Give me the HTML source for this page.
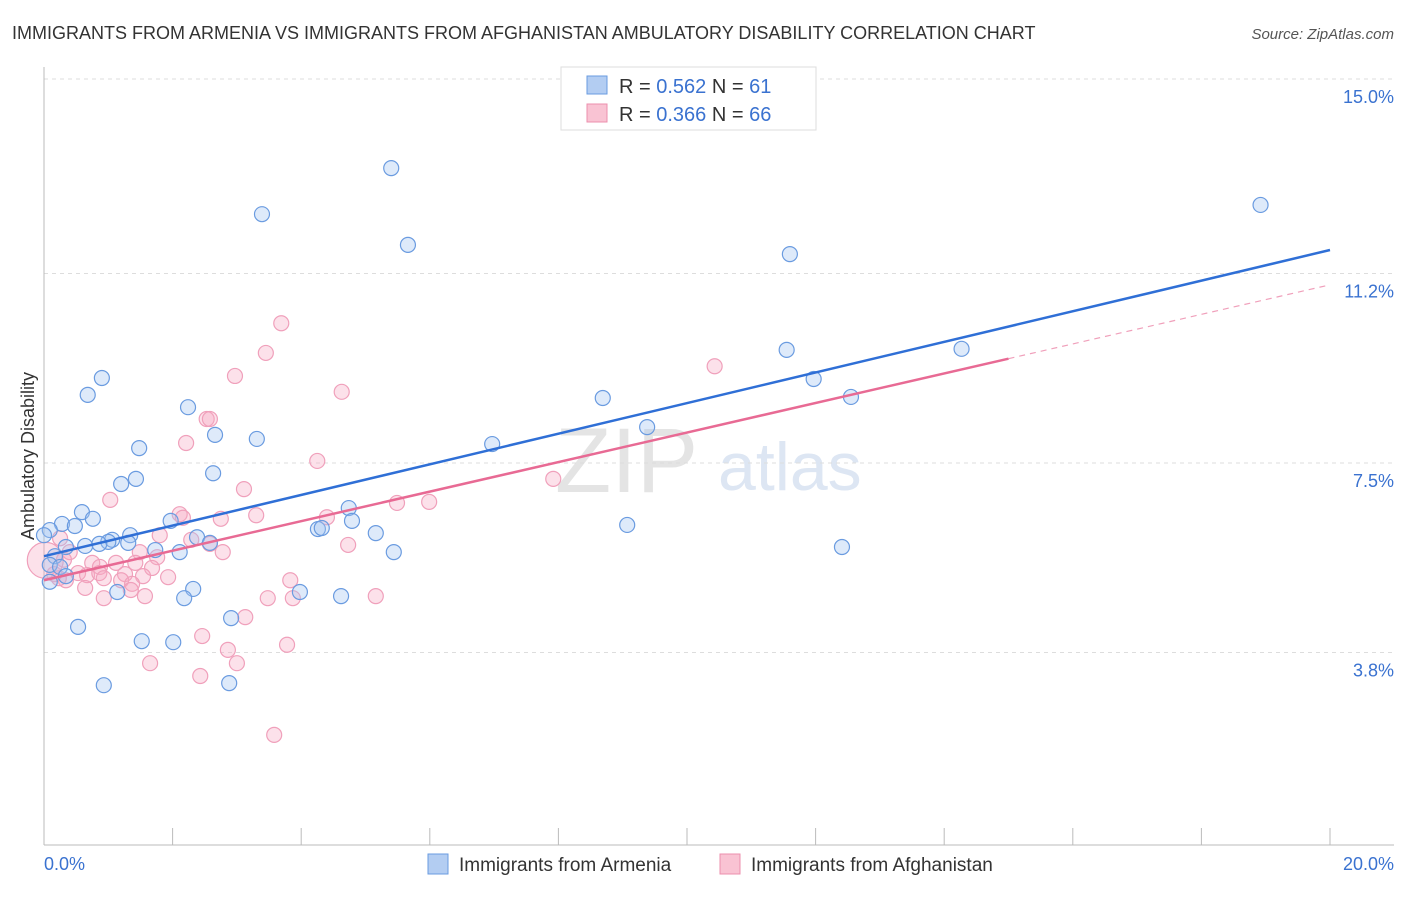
<!DOCTYPE html>
<html><head><meta charset="utf-8"><style>
body{margin:0;background:#fff;font-family:"Liberation Sans",sans-serif;}
svg text{font-family:"Liberation Sans",sans-serif;}
</style></head><body>
<svg id="chart" width="1406" height="892" viewBox="0 0 1406 892" xmlns="http://www.w3.org/2000/svg">
<text x="12" y="39" font-size="18" fill="#333">IMMIGRANTS FROM ARMENIA VS IMMIGRANTS FROM AFGHANISTAN AMBULATORY DISABILITY CORRELATION CHART</text>
<text x="1394" y="39" font-size="15" fill="#555" font-style="italic" text-anchor="end">Source: ZipAtlas.com</text>
<g>
<text x="555" y="492" font-size="92" fill="#e4e4e4" font-family="Liberation Serif">ZIP</text>
<text x="718" y="490" font-size="68" fill="#dde6f3">atlas</text>
</g>
<g id="grid"></g>
<g id="axes"></g>
<g id="marks"></g>
<text transform="translate(34,456) rotate(-90)" font-size="18" fill="#333" text-anchor="middle">Ambulatory Disability</text>
<g>
<rect x="561" y="67" width="255" height="63" fill="#fff" stroke="#ddd"/>
<rect x="587" y="76" width="20" height="18" fill="#b3cdf2" stroke="#6a9be0"/>
<rect x="587" y="104" width="20" height="18" fill="#f9c3d3" stroke="#ec8fae"/>
<text x="619" y="93" font-size="20" fill="#333">R = <tspan fill="#3a72d0">0.562</tspan>   N = <tspan fill="#3a72d0"> 61</tspan></text>
<text x="619" y="121" font-size="20" fill="#333">R = <tspan fill="#3a72d0">0.366</tspan>   N = <tspan fill="#3a72d0">66</tspan></text>
</g>
<g>
<rect x="428" y="854" width="20" height="20" fill="#b3cdf2" stroke="#6a9be0"/>
<text x="459" y="871" font-size="19" fill="#333">Immigrants from Armenia</text>
<rect x="720" y="854" width="20" height="20" fill="#f9c3d3" stroke="#ec8fae"/>
<text x="751" y="871" font-size="19" fill="#333">Immigrants from Afghanistan</text>
</g>
</svg>
<script>
const yTicks=[15.0,11.2,7.5,3.8];
const yTickLabels=["15.0%","11.2%","7.5%","3.8%"];
const xTickLabels=["0.0%","20.0%"];
const armeniaX=[5.40,3.39,5.66,18.92,11.60,0.90,0.68,2.24,2.66,3.31,1.48,11.55,14.27,11.97,12.55,8.69,9.38,6.97,2.63,1.43,1.20,0.59,0.76,0.28,0.48,4.74,4.79,4.26,4.32,1.97,9.07,5.16,0.09,0.00,1.34,1.06,1.00,1.31,0.86,0.64,0.34,2.38,2.58,1.73,2.11,5.44,12.41,0.17,0.09,0.25,0.34,0.09,2.32,1.14,2.18,3.98,4.62,0.53,2.91,1.52,2.01,0.93,2.88];
const armeniaY=[13.26,12.36,11.76,12.54,11.58,9.16,8.83,8.59,8.05,7.97,7.79,9.71,9.73,9.14,8.79,8.77,8.20,7.87,7.30,7.19,7.09,6.54,6.41,6.31,6.27,6.62,6.37,6.21,6.23,6.37,6.29,6.13,6.19,6.09,6.09,6.00,5.96,5.94,5.92,5.88,5.86,6.05,5.94,5.80,5.76,5.76,5.86,5.68,5.51,5.47,5.29,5.18,5.04,4.98,4.86,4.98,4.90,4.30,4.47,4.02,4.00,3.16,3.20];
const afghanX=[3.69,3.45,2.97,4.63,10.43,2.53,2.58,2.21,4.25,3.11,1.03,5.49,5.99,7.92,2.11,2.16,3.30,2.75,4.40,1.80,2.29,2.58,2.78,4.73,0.25,0.40,1.49,1.76,1.12,0.31,0.75,0.87,1.42,1.68,0.16,0.53,0.67,0.86,1.26,1.93,1.54,1.20,0.93,0.34,0.23,3.83,1.37,0.64,1.35,1.57,0.93,3.48,3.87,5.16,3.13,2.46,3.78,2.86,1.65,3.00,2.43,3.58,0.02];
const afghanY=[10.23,9.65,9.20,8.89,9.39,8.36,8.36,7.89,7.54,6.99,6.78,6.72,6.74,7.19,6.50,6.43,6.48,6.41,6.44,6.09,6.00,5.92,5.76,5.90,6.03,5.76,5.76,5.66,5.55,5.61,5.55,5.47,5.55,5.45,5.33,5.35,5.31,5.35,5.33,5.27,5.29,5.21,5.25,5.21,5.25,5.21,5.14,5.06,5.02,4.90,4.86,4.86,4.86,4.90,4.49,4.12,3.95,3.85,3.59,3.59,3.34,2.19,5.60];
const armeniaFit=[5.68,11.66];
const afghanFit=[5.21,10.98];
const afghanSolidEnd=15.0;

const NS="http://www.w3.org/2000/svg";
const X0=44,X1=1330,Y0=847,PXPER=51.2;
function sx(v){return X0+(v/20)*(X1-X0);}
function sy(v){return Y0-v*PXPER;}
function mk(tag,attrs,parent){const e=document.createElementNS(NS,tag);for(const k in attrs)e.setAttribute(k,attrs[k]);parent.appendChild(e);return e;}
const grid=document.getElementById('grid'),axes=document.getElementById('axes'),marks=document.getElementById('marks');
yTicks.forEach((t,i)=>{
  const l=mk('line',{x1:X0,x2:1394,y1:sy(t),y2:sy(t),stroke:'#ddd','stroke-dasharray':'4,4'},grid);
  
  
  const tx=mk('text',{x:1394,y:sy(t)+24,'font-size':18,fill:'#3a72d0','text-anchor':'end'},axes);
  tx.textContent=yTickLabels[i];
  
  
});
const ax=mk('line',{x1:X0,x2:X0,y1:67,y2:845,stroke:'#bbb'},axes);


const bx=mk('line',{x1:X0,x2:1394,y1:845,y2:845,stroke:'#bbb'},axes);


for(let i=0;i<=10;i++){
  const tk=mk('line',{x1:sx(i*2),x2:sx(i*2),y1:828,y2:845,stroke:'#bbb'},axes);
  
  
}
const xl0=mk('text',{x:44,y:870,'font-size':18,fill:'#3a72d0'},axes);
xl0.textContent=xTickLabels[0];


const xl1=mk('text',{x:1394,y:870,'font-size':18,fill:'#3a72d0','text-anchor':'end'},axes);
xl1.textContent=xTickLabels[1];



afghanX.forEach((x,i)=>{
  const r=(i===afghanX.length-1)?18:7.5;
  const c=mk('circle',{cx:sx(x),cy:sy(afghanY[i]),r:r,fill:'rgba(246,170,195,0.35)',stroke:'#f0a0bb','stroke-width':1.2},marks);
  
  
});
armeniaX.forEach((x,i)=>{
  const c=mk('circle',{cx:sx(x),cy:sy(armeniaY[i]),r:7.5,fill:'rgba(160,195,240,0.35)',stroke:'#6a9be0','stroke-width':1.2},marks);
  
  
});
function fitY(f,x){return f[0]+(f[1]-f[0])*x/20;}
const bl=mk('line',{x1:sx(0),y1:sy(armeniaFit[0]),x2:sx(20),y2:sy(armeniaFit[1]),stroke:'#2f6fd6','stroke-width':2.5},marks);


const pl=mk('line',{x1:sx(0),y1:sy(afghanFit[0]),x2:sx(afghanSolidEnd),y2:sy(fitY(afghanFit,afghanSolidEnd)),stroke:'#e86a94','stroke-width':2.5},marks);


const pd=mk('line',{x1:sx(afghanSolidEnd),y1:sy(fitY(afghanFit,afghanSolidEnd)),x2:sx(20),y2:sy(afghanFit[1]),stroke:'#f0a0bb','stroke-width':1.2,'stroke-dasharray':'6,5'},marks);


</script>
</body></html>
